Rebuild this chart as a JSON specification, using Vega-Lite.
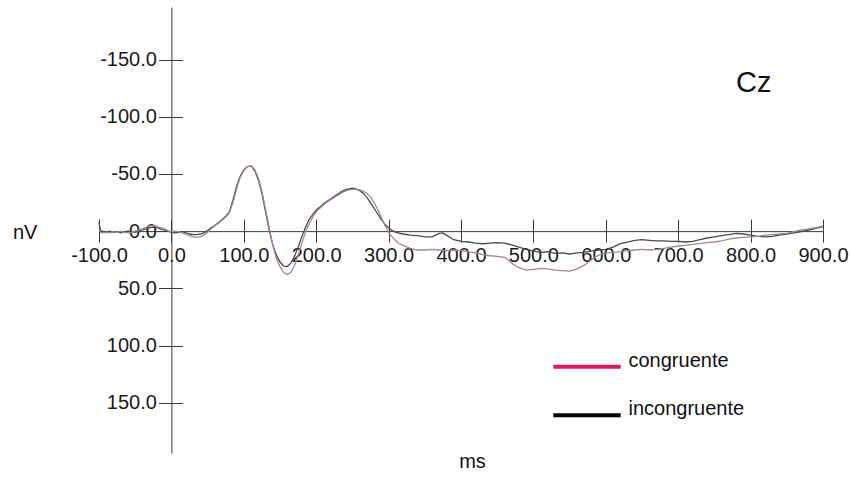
{
  "$schema": "https://vega.github.io/schema/vega-lite/v6.json",
  "autosize": {"type": "none"},
  "width": 724,
  "height": 446,
  "padding": {"left": 99, "top": 7, "right": 29, "bottom": 33},
  "background": "white",
  "title": {
    "text": "Cz",
    "anchor": "start",
    "frame": "group",
    "orient": "top",
    "offset": 0,
    "dx": 637,
    "dy": 114,
    "baseline": "alphabetic",
    "font": "Liberation Sans",
    "fontSize": 29,
    "fontWeight": "normal",
    "color": "#111111"
  },
  "datasets": {
    "erp": [
      {"ms": -100, "nV": -8, "cond": "incongruente"}, {"ms": -98, "nV": -1, "cond": "incongruente"}, {"ms": -95, "nV": 0.5, "cond": "incongruente"}, {"ms": -90, "nV": 1, "cond": "incongruente"}, {"ms": -85, "nV": 0, "cond": "incongruente"}, {"ms": -80, "nV": 1, "cond": "incongruente"}, {"ms": -75, "nV": 0.5, "cond": "incongruente"}, {"ms": -70, "nV": 1.5, "cond": "incongruente"}, {"ms": -65, "nV": 0.5, "cond": "incongruente"}, {"ms": -60, "nV": 0, "cond": "incongruente"}, {"ms": -55, "nV": 0.5, "cond": "incongruente"}, {"ms": -50, "nV": 1, "cond": "incongruente"}, {"ms": -45, "nV": 0, "cond": "incongruente"}, {"ms": -40, "nV": -1, "cond": "incongruente"}, {"ms": -35, "nV": -2, "cond": "incongruente"}, {"ms": -30, "nV": -3, "cond": "incongruente"}, {"ms": -25, "nV": -3.5, "cond": "incongruente"}, {"ms": -20, "nV": -3, "cond": "incongruente"}, {"ms": -15, "nV": -2, "cond": "incongruente"}, {"ms": -10, "nV": -1, "cond": "incongruente"}, {"ms": -5, "nV": 0, "cond": "incongruente"},
      {"ms": 0, "nV": 1, "cond": "incongruente"}, {"ms": 5, "nV": 1.5, "cond": "incongruente"}, {"ms": 10, "nV": 1, "cond": "incongruente"}, {"ms": 15, "nV": 0.5, "cond": "incongruente"}, {"ms": 20, "nV": 1.5, "cond": "incongruente"}, {"ms": 25, "nV": 2.5, "cond": "incongruente"}, {"ms": 30, "nV": 3, "cond": "incongruente"}, {"ms": 35, "nV": 3, "cond": "incongruente"}, {"ms": 40, "nV": 2.5, "cond": "incongruente"}, {"ms": 45, "nV": 1.5, "cond": "incongruente"}, {"ms": 50, "nV": -0.5, "cond": "incongruente"}, {"ms": 55, "nV": -3, "cond": "incongruente"}, {"ms": 60, "nV": -5, "cond": "incongruente"}, {"ms": 65, "nV": -7.5, "cond": "incongruente"}, {"ms": 70, "nV": -10, "cond": "incongruente"}, {"ms": 75, "nV": -13, "cond": "incongruente"}, {"ms": 80, "nV": -16.5, "cond": "incongruente"}, {"ms": 85, "nV": -27, "cond": "incongruente"}, {"ms": 90, "nV": -39, "cond": "incongruente"}, {"ms": 95, "nV": -48, "cond": "incongruente"},
      {"ms": 100, "nV": -53.5, "cond": "incongruente"}, {"ms": 105, "nV": -56.5, "cond": "incongruente"}, {"ms": 110, "nV": -57, "cond": "incongruente"}, {"ms": 115, "nV": -53, "cond": "incongruente"}, {"ms": 120, "nV": -45, "cond": "incongruente"}, {"ms": 125, "nV": -33, "cond": "incongruente"}, {"ms": 130, "nV": -17, "cond": "incongruente"}, {"ms": 135, "nV": -1, "cond": "incongruente"}, {"ms": 140, "nV": 12, "cond": "incongruente"}, {"ms": 145, "nV": 21, "cond": "incongruente"}, {"ms": 150, "nV": 27, "cond": "incongruente"}, {"ms": 155, "nV": 30.5, "cond": "incongruente"}, {"ms": 160, "nV": 31, "cond": "incongruente"}, {"ms": 165, "nV": 28, "cond": "incongruente"}, {"ms": 170, "nV": 22, "cond": "incongruente"}, {"ms": 175, "nV": 14, "cond": "incongruente"}, {"ms": 180, "nV": 5, "cond": "incongruente"}, {"ms": 185, "nV": -3, "cond": "incongruente"}, {"ms": 190, "nV": -10, "cond": "incongruente"}, {"ms": 195, "nV": -14.5, "cond": "incongruente"},
      {"ms": 200, "nV": -18.5, "cond": "incongruente"}, {"ms": 205, "nV": -21, "cond": "incongruente"}, {"ms": 210, "nV": -24, "cond": "incongruente"}, {"ms": 215, "nV": -26, "cond": "incongruente"}, {"ms": 220, "nV": -28, "cond": "incongruente"}, {"ms": 225, "nV": -30.5, "cond": "incongruente"}, {"ms": 230, "nV": -32.5, "cond": "incongruente"}, {"ms": 235, "nV": -34.5, "cond": "incongruente"}, {"ms": 240, "nV": -36, "cond": "incongruente"}, {"ms": 245, "nV": -37, "cond": "incongruente"}, {"ms": 250, "nV": -37.5, "cond": "incongruente"}, {"ms": 255, "nV": -37, "cond": "incongruente"}, {"ms": 260, "nV": -35.5, "cond": "incongruente"}, {"ms": 265, "nV": -33, "cond": "incongruente"}, {"ms": 270, "nV": -29.5, "cond": "incongruente"}, {"ms": 275, "nV": -25, "cond": "incongruente"}, {"ms": 280, "nV": -20, "cond": "incongruente"}, {"ms": 285, "nV": -15, "cond": "incongruente"}, {"ms": 290, "nV": -10, "cond": "incongruente"}, {"ms": 295, "nV": -6, "cond": "incongruente"},
      {"ms": 300, "nV": -3, "cond": "incongruente"}, {"ms": 305, "nV": -0.5, "cond": "incongruente"}, {"ms": 310, "nV": 1, "cond": "incongruente"}, {"ms": 320, "nV": 2.5, "cond": "incongruente"}, {"ms": 330, "nV": 3.5, "cond": "incongruente"}, {"ms": 340, "nV": 4, "cond": "incongruente"}, {"ms": 350, "nV": 5, "cond": "incongruente"}, {"ms": 360, "nV": 5, "cond": "incongruente"}, {"ms": 365, "nV": 3.5, "cond": "incongruente"}, {"ms": 370, "nV": 2, "cond": "incongruente"}, {"ms": 375, "nV": 1.5, "cond": "incongruente"}, {"ms": 380, "nV": 3.5, "cond": "incongruente"}, {"ms": 385, "nV": 5.5, "cond": "incongruente"}, {"ms": 390, "nV": 7.5, "cond": "incongruente"},
      {"ms": 400, "nV": 9, "cond": "incongruente"}, {"ms": 410, "nV": 9.5, "cond": "incongruente"}, {"ms": 420, "nV": 10.5, "cond": "incongruente"}, {"ms": 430, "nV": 11, "cond": "incongruente"}, {"ms": 440, "nV": 10.5, "cond": "incongruente"}, {"ms": 450, "nV": 10, "cond": "incongruente"}, {"ms": 460, "nV": 10.5, "cond": "incongruente"}, {"ms": 470, "nV": 12, "cond": "incongruente"}, {"ms": 480, "nV": 14, "cond": "incongruente"}, {"ms": 490, "nV": 16, "cond": "incongruente"},
      {"ms": 500, "nV": 17.5, "cond": "incongruente"}, {"ms": 510, "nV": 18.5, "cond": "incongruente"}, {"ms": 520, "nV": 18, "cond": "incongruente"}, {"ms": 530, "nV": 19.5, "cond": "incongruente"}, {"ms": 540, "nV": 19, "cond": "incongruente"}, {"ms": 550, "nV": 20, "cond": "incongruente"}, {"ms": 560, "nV": 19, "cond": "incongruente"}, {"ms": 570, "nV": 18.5, "cond": "incongruente"}, {"ms": 580, "nV": 17.5, "cond": "incongruente"}, {"ms": 590, "nV": 16.5, "cond": "incongruente"},
      {"ms": 600, "nV": 16, "cond": "incongruente"}, {"ms": 610, "nV": 14, "cond": "incongruente"}, {"ms": 620, "nV": 11, "cond": "incongruente"}, {"ms": 630, "nV": 9.5, "cond": "incongruente"}, {"ms": 640, "nV": 8, "cond": "incongruente"}, {"ms": 650, "nV": 7.5, "cond": "incongruente"}, {"ms": 660, "nV": 8, "cond": "incongruente"}, {"ms": 670, "nV": 8.5, "cond": "incongruente"}, {"ms": 680, "nV": 8.5, "cond": "incongruente"}, {"ms": 690, "nV": 9, "cond": "incongruente"},
      {"ms": 700, "nV": 9, "cond": "incongruente"}, {"ms": 710, "nV": 9.5, "cond": "incongruente"}, {"ms": 720, "nV": 9, "cond": "incongruente"}, {"ms": 730, "nV": 7.5, "cond": "incongruente"}, {"ms": 740, "nV": 6, "cond": "incongruente"}, {"ms": 750, "nV": 5, "cond": "incongruente"}, {"ms": 760, "nV": 4, "cond": "incongruente"}, {"ms": 770, "nV": 3, "cond": "incongruente"}, {"ms": 780, "nV": 2, "cond": "incongruente"}, {"ms": 790, "nV": 2.5, "cond": "incongruente"},
      {"ms": 800, "nV": 3.5, "cond": "incongruente"}, {"ms": 810, "nV": 4.5, "cond": "incongruente"}, {"ms": 820, "nV": 5, "cond": "incongruente"}, {"ms": 830, "nV": 4.5, "cond": "incongruente"}, {"ms": 840, "nV": 3.5, "cond": "incongruente"}, {"ms": 850, "nV": 2.5, "cond": "incongruente"}, {"ms": 860, "nV": 1.5, "cond": "incongruente"}, {"ms": 870, "nV": 0.5, "cond": "incongruente"}, {"ms": 880, "nV": -1, "cond": "incongruente"}, {"ms": 890, "nV": -2.5, "cond": "incongruente"}, {"ms": 900, "nV": -4, "cond": "incongruente"},

      {"ms": -100, "nV": -2, "cond": "congruente"}, {"ms": -98, "nV": 1, "cond": "congruente"}, {"ms": -95, "nV": 1.5, "cond": "congruente"}, {"ms": -90, "nV": 1, "cond": "congruente"}, {"ms": -85, "nV": 1.5, "cond": "congruente"}, {"ms": -80, "nV": 0.5, "cond": "congruente"}, {"ms": -75, "nV": 1, "cond": "congruente"}, {"ms": -70, "nV": 0, "cond": "congruente"}, {"ms": -65, "nV": 1, "cond": "congruente"}, {"ms": -60, "nV": 1.5, "cond": "congruente"}, {"ms": -55, "nV": 1, "cond": "congruente"}, {"ms": -50, "nV": 0, "cond": "congruente"}, {"ms": -45, "nV": -1, "cond": "congruente"}, {"ms": -40, "nV": -2, "cond": "congruente"}, {"ms": -35, "nV": -3.5, "cond": "congruente"}, {"ms": -30, "nV": -4.5, "cond": "congruente"}, {"ms": -25, "nV": -5, "cond": "congruente"}, {"ms": -20, "nV": -4, "cond": "congruente"}, {"ms": -15, "nV": -3, "cond": "congruente"}, {"ms": -10, "nV": -2, "cond": "congruente"}, {"ms": -5, "nV": -0.5, "cond": "congruente"},
      {"ms": 0, "nV": 0.5, "cond": "congruente"}, {"ms": 5, "nV": 0, "cond": "congruente"}, {"ms": 10, "nV": 0.5, "cond": "congruente"}, {"ms": 15, "nV": 1.5, "cond": "congruente"}, {"ms": 20, "nV": 2.5, "cond": "congruente"}, {"ms": 25, "nV": 4, "cond": "congruente"}, {"ms": 30, "nV": 5, "cond": "congruente"}, {"ms": 35, "nV": 5.5, "cond": "congruente"}, {"ms": 40, "nV": 5, "cond": "congruente"}, {"ms": 45, "nV": 3.5, "cond": "congruente"}, {"ms": 50, "nV": 1, "cond": "congruente"}, {"ms": 55, "nV": -2, "cond": "congruente"}, {"ms": 60, "nV": -4.5, "cond": "congruente"}, {"ms": 65, "nV": -7, "cond": "congruente"}, {"ms": 70, "nV": -9.5, "cond": "congruente"}, {"ms": 75, "nV": -12.5, "cond": "congruente"}, {"ms": 80, "nV": -16, "cond": "congruente"}, {"ms": 85, "nV": -25, "cond": "congruente"}, {"ms": 90, "nV": -37, "cond": "congruente"}, {"ms": 95, "nV": -47, "cond": "congruente"},
      {"ms": 100, "nV": -53, "cond": "congruente"}, {"ms": 105, "nV": -56.5, "cond": "congruente"}, {"ms": 110, "nV": -57, "cond": "congruente"}, {"ms": 115, "nV": -54, "cond": "congruente"}, {"ms": 120, "nV": -46.5, "cond": "congruente"}, {"ms": 125, "nV": -35, "cond": "congruente"}, {"ms": 130, "nV": -19, "cond": "congruente"}, {"ms": 135, "nV": -3, "cond": "congruente"}, {"ms": 140, "nV": 12, "cond": "congruente"}, {"ms": 145, "nV": 24, "cond": "congruente"}, {"ms": 150, "nV": 31, "cond": "congruente"}, {"ms": 155, "nV": 36, "cond": "congruente"}, {"ms": 160, "nV": 38, "cond": "congruente"}, {"ms": 165, "nV": 36, "cond": "congruente"}, {"ms": 170, "nV": 30, "cond": "congruente"}, {"ms": 175, "nV": 21, "cond": "congruente"}, {"ms": 180, "nV": 11, "cond": "congruente"}, {"ms": 185, "nV": 1, "cond": "congruente"}, {"ms": 190, "nV": -6, "cond": "congruente"}, {"ms": 195, "nV": -12, "cond": "congruente"},
      {"ms": 200, "nV": -17, "cond": "congruente"}, {"ms": 205, "nV": -20, "cond": "congruente"}, {"ms": 210, "nV": -23, "cond": "congruente"}, {"ms": 215, "nV": -25.5, "cond": "congruente"}, {"ms": 220, "nV": -27.5, "cond": "congruente"}, {"ms": 225, "nV": -29.5, "cond": "congruente"}, {"ms": 230, "nV": -31.5, "cond": "congruente"}, {"ms": 235, "nV": -33.5, "cond": "congruente"}, {"ms": 240, "nV": -35, "cond": "congruente"}, {"ms": 245, "nV": -36, "cond": "congruente"}, {"ms": 250, "nV": -36.5, "cond": "congruente"}, {"ms": 255, "nV": -36.5, "cond": "congruente"}, {"ms": 260, "nV": -36, "cond": "congruente"}, {"ms": 265, "nV": -35, "cond": "congruente"}, {"ms": 270, "nV": -33, "cond": "congruente"}, {"ms": 275, "nV": -30, "cond": "congruente"}, {"ms": 280, "nV": -25, "cond": "congruente"}, {"ms": 285, "nV": -19, "cond": "congruente"}, {"ms": 290, "nV": -12, "cond": "congruente"}, {"ms": 295, "nV": -5, "cond": "congruente"},
      {"ms": 300, "nV": 1, "cond": "congruente"}, {"ms": 305, "nV": 5, "cond": "congruente"}, {"ms": 310, "nV": 8.5, "cond": "congruente"}, {"ms": 315, "nV": 11, "cond": "congruente"}, {"ms": 320, "nV": 12.5, "cond": "congruente"}, {"ms": 330, "nV": 15, "cond": "congruente"}, {"ms": 340, "nV": 16.5, "cond": "congruente"}, {"ms": 350, "nV": 16.5, "cond": "congruente"}, {"ms": 360, "nV": 16, "cond": "congruente"}, {"ms": 370, "nV": 16.5, "cond": "congruente"}, {"ms": 380, "nV": 17, "cond": "congruente"}, {"ms": 390, "nV": 16.5, "cond": "congruente"},
      {"ms": 400, "nV": 17, "cond": "congruente"}, {"ms": 410, "nV": 18, "cond": "congruente"}, {"ms": 420, "nV": 19, "cond": "congruente"}, {"ms": 430, "nV": 20.5, "cond": "congruente"}, {"ms": 440, "nV": 21.5, "cond": "congruente"}, {"ms": 450, "nV": 22, "cond": "congruente"}, {"ms": 460, "nV": 23, "cond": "congruente"}, {"ms": 465, "nV": 25, "cond": "congruente"}, {"ms": 470, "nV": 28, "cond": "congruente"}, {"ms": 480, "nV": 32, "cond": "congruente"}, {"ms": 490, "nV": 34, "cond": "congruente"},
      {"ms": 500, "nV": 33.5, "cond": "congruente"}, {"ms": 510, "nV": 32.5, "cond": "congruente"}, {"ms": 520, "nV": 33, "cond": "congruente"}, {"ms": 530, "nV": 34, "cond": "congruente"}, {"ms": 540, "nV": 34.5, "cond": "congruente"}, {"ms": 550, "nV": 35, "cond": "congruente"}, {"ms": 555, "nV": 34, "cond": "congruente"}, {"ms": 560, "nV": 33, "cond": "congruente"}, {"ms": 570, "nV": 30, "cond": "congruente"}, {"ms": 580, "nV": 25, "cond": "congruente"}, {"ms": 590, "nV": 21, "cond": "congruente"},
      {"ms": 600, "nV": 19, "cond": "congruente"}, {"ms": 610, "nV": 18.5, "cond": "congruente"}, {"ms": 620, "nV": 18, "cond": "congruente"}, {"ms": 630, "nV": 17, "cond": "congruente"}, {"ms": 640, "nV": 16.5, "cond": "congruente"}, {"ms": 650, "nV": 16, "cond": "congruente"}, {"ms": 660, "nV": 16.5, "cond": "congruente"}, {"ms": 670, "nV": 16, "cond": "congruente"}, {"ms": 680, "nV": 15, "cond": "congruente"}, {"ms": 690, "nV": 14, "cond": "congruente"},
      {"ms": 700, "nV": 13, "cond": "congruente"}, {"ms": 710, "nV": 12.5, "cond": "congruente"}, {"ms": 720, "nV": 11.5, "cond": "congruente"}, {"ms": 730, "nV": 11, "cond": "congruente"}, {"ms": 740, "nV": 10, "cond": "congruente"}, {"ms": 750, "nV": 9.5, "cond": "congruente"}, {"ms": 760, "nV": 8.5, "cond": "congruente"}, {"ms": 770, "nV": 7, "cond": "congruente"}, {"ms": 780, "nV": 6, "cond": "congruente"}, {"ms": 790, "nV": 5.5, "cond": "congruente"},
      {"ms": 800, "nV": 5, "cond": "congruente"}, {"ms": 810, "nV": 4.5, "cond": "congruente"}, {"ms": 820, "nV": 3.5, "cond": "congruente"}, {"ms": 830, "nV": 3, "cond": "congruente"}, {"ms": 840, "nV": 2.5, "cond": "congruente"}, {"ms": 850, "nV": 2, "cond": "congruente"}, {"ms": 860, "nV": 0.5, "cond": "congruente"}, {"ms": 870, "nV": -1, "cond": "congruente"}, {"ms": 880, "nV": -2, "cond": "congruente"}, {"ms": 890, "nV": -3, "cond": "congruente"}, {"ms": 900, "nV": -4.5, "cond": "congruente"}
    ]
  },
  "data": {"name": "erp"},
  "layer": [
    {
      "mark": {"type": "line", "strokeWidth": 1.3, "interpolate": "linear"},
      "encoding": {
        "x": {
          "field": "ms",
          "type": "quantitative",
          "scale": {"domain": [-100, 900], "nice": false, "zero": false},
          "axis": {
            "orient": "bottom",
            "offset": -221.86,
            "values": [-100, 0, 100, 200, 300, 400, 500, 600, 700, 800, 900],
            "labelExpr": "(datum.value < 0 ? '-' : '') + format(abs(datum.value), '.1f')",
            "grid": false,
            "tickSize": 11,
            "labelPadding": 3,
            "labelFlush": false,
            "labelOverlap": false,
            "labelBound": false,
            "labelFont": "Liberation Sans",
            "labelFontSize": 20,
            "labelColor": "#1a1a1a",
            "domainColor": "#3a3a3a",
            "tickColor": "#3a3a3a",
            "title": "ms",
            "titleFont": "Liberation Sans",
            "titleFontSize": 20,
            "titleFontWeight": "normal",
            "titleColor": "#111111",
            "titleX": 373,
            "titleY": 230,
            "titleAlign": "center",
            "titleBaseline": "middle"
          }
        },
        "y": {
          "field": "nV",
          "type": "quantitative",
          "scale": {"domain": [-196, 194], "nice": false, "zero": false, "reverse": true},
          "axis": {
            "orient": "left",
            "offset": -72.4,
            "values": [-150, -100, -50, 0, 50, 100, 150],
            "labelExpr": "(datum.value < 0 ? '-' : '') + format(abs(datum.value), '.1f')",
            "grid": false,
            "tickSize": 13,
            "labelPadding": 2,
            "labelFont": "Liberation Sans",
            "labelFontSize": 20,
            "labelColor": "#1a1a1a",
            "domainColor": "#3a3a3a",
            "tickColor": "#3a3a3a",
            "title": "nV",
            "titleFont": "Liberation Sans",
            "titleFontSize": 20,
            "titleFontWeight": "normal",
            "titleColor": "#111111",
            "titleAngle": 0,
            "titleX": -159,
            "titleY": 225,
            "titleAlign": "left",
            "titleBaseline": "middle"
          }
        },
        "stroke": {
          "field": "cond",
          "type": "nominal",
          "scale": {"range": ["#a3878c", "#4a4a4a"]},
          "legend": null
        }
      }
    },
    {
      "mark": {"type": "line", "opacity": 0},
      "encoding": {
        "x": {
          "field": "ms",
          "type": "quantitative",
          "axis": {
            "orient": "bottom",
            "offset": -221.86,
            "values": [-100, 0, 100, 200, 300, 400, 500, 600, 700, 800, 900],
            "grid": false,
            "domain": false,
            "labels": false,
            "title": null,
            "tickSize": -12,
            "tickColor": "#3a3a3a"
          }
        },
        "y": {
          "field": "nV",
          "type": "quantitative",
          "axis": {
            "orient": "left",
            "offset": -72.4,
            "values": [-150, -100, -50, 0, 50, 100, 150],
            "grid": false,
            "domain": false,
            "labels": false,
            "title": null,
            "tickSize": -11,
            "tickColor": "#3a3a3a"
          }
        },
        "color": {
          "field": "cond",
          "type": "nominal",
          "scale": {"domain": ["congruente", "incongruente"], "range": ["#e3175c", "#000000"]},
          "legend": {
            "orient": "none",
            "legendX": 452,
            "legendY": 349.7,
            "title": null,
            "padding": 0,
            "symbolType": "stroke",
            "symbolSize": 4540,
            "symbolStrokeWidth": 4,
            "symbolOpacity": 1,
            "clipHeight": 20,
            "rowPadding": 22.6,
            "labelOffset": 5.5,
            "labelFont": "Liberation Sans",
            "labelFontSize": 20,
            "labelBaseline": "alphabetic",
            "labelColor": "#111111"
          }
        }
      }
    }
  ],
  "resolve": {"axis": {"x": "independent", "y": "independent"}},
  "config": {"view": {"stroke": null}}
}
